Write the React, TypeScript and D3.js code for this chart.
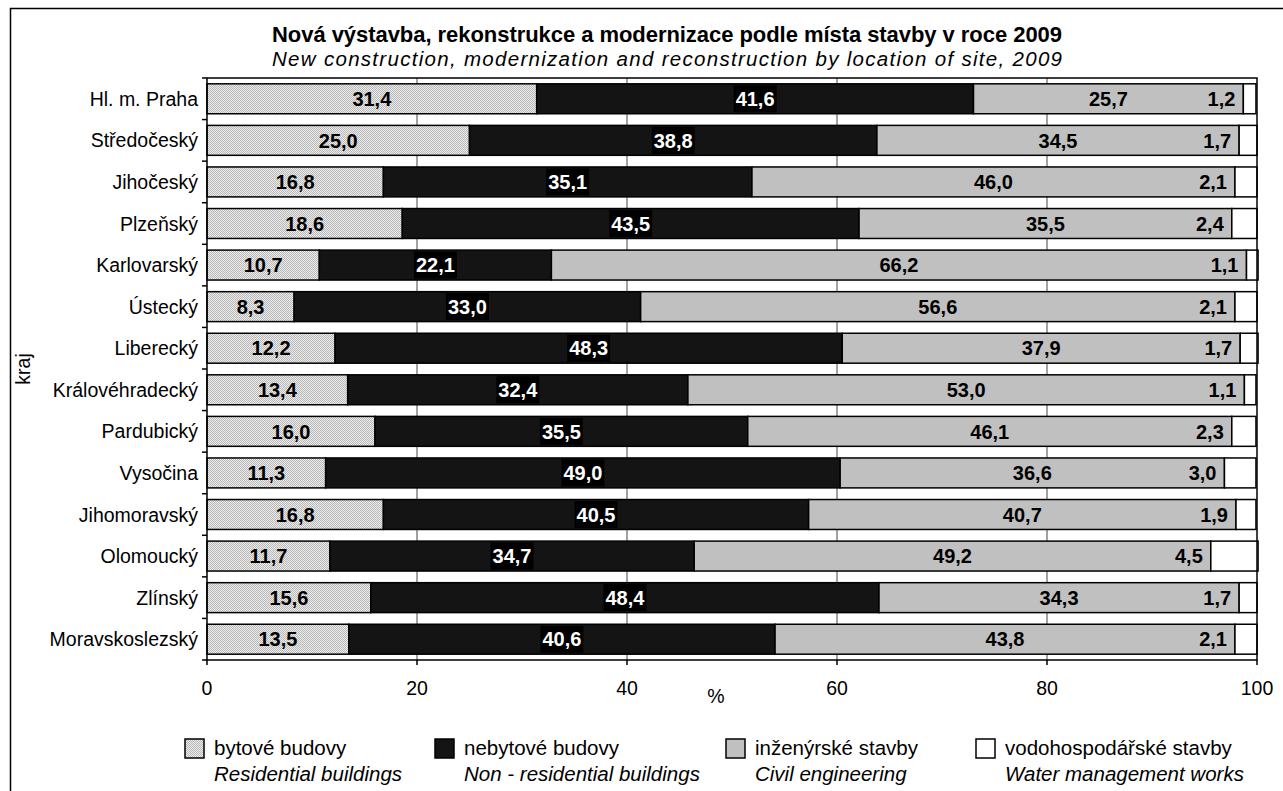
import React from 'react'
import * as d3 from 'd3'

const categories = ['Hl. m. Praha', 'Středočeský', 'Jihočeský', 'Plzeňský', 'Karlovarský', 'Ústecký', 'Liberecký', 'Královéhradecký', 'Pardubický', 'Vysočina', 'Jihomoravský', 'Olomoucký', 'Zlínský', 'Moravskoslezský']
const residential = [31.4, 25.0, 16.8, 18.6, 10.7, 8.3, 12.2, 13.4, 16.0, 11.3, 16.8, 11.7, 15.6, 13.5]
const nonResidential = [41.6, 38.8, 35.1, 43.5, 22.1, 33.0, 48.3, 32.4, 35.5, 49.0, 40.5, 34.7, 48.4, 40.6]
const civil = [25.7, 34.5, 46.0, 35.5, 66.2, 56.6, 37.9, 53.0, 46.1, 36.6, 40.7, 49.2, 34.3, 43.8]
const water = [1.2, 1.7, 2.1, 2.4, 1.1, 2.1, 1.7, 1.1, 2.3, 3.0, 1.9, 4.5, 1.7, 2.1]
const seriesKeys = ['res', 'nonres', 'civil', 'water']
const legendCz = ['bytové budovy', 'nebytové budovy', 'inženýrské stavby', 'vodohospodářské stavby']
const legendEn = ['Residential buildings', 'Non - residential buildings', 'Civil engineering', 'Water management works']
const xTicks = [0, 20, 40, 60, 80, 100]

const W = 1283
const H = 791
const margin = { left: 207, right: 26, top: 78, bottom: 131 }
const font = 'Arial, "Liberation Sans", sans-serif'
const fills = ['url(#dots)', '#141414', '#c0c0c0', '#ffffff']
const legendX = [185, 435, 726, 976]

const fmt = (v: number) => d3.format('.1f')(v).replace('.', ',')

export default function App() {
  const rows = categories.map((c, i) => ({ cat: c, res: residential[i], nonres: nonResidential[i], civil: civil[i], water: water[i] }))
  const stack = d3.stack<any>().keys(seriesKeys)(rows)

  const x = d3.scaleLinear().domain([0, 100]).range([margin.left, W - margin.right])
  const y = d3.scaleBand().domain(categories).range([margin.top, H - margin.bottom]).paddingInner(0.28).paddingOuter(0.14)
  const x0 = x(0), x1 = x(100), y0 = margin.top, y1 = H - margin.bottom
  const step = y.step()
  const lblSize = 20

  return (
    <svg width={W} height={H} style={{ position: 'absolute', left: 0, top: 0 }} fontFamily={font}>
      <defs>
        <pattern id="dots" width="2" height="2" patternUnits="userSpaceOnUse">
          <rect width="2" height="2" fill="#ececec" />
          <rect width="1" height="1" fill="#b8b8b8" />
          <rect x="1" y="1" width="1" height="1" fill="#b8b8b8" />
        </pattern>
      </defs>
      <rect x={0} y={0} width={W} height={H} fill="#fff" />
      <rect x={10.5} y={8.5} width={W + 40} height={H + 40} fill="none" stroke="#000" strokeWidth={1.5} />

      <text x={667} y={42} textAnchor="middle" fontWeight="bold" fontSize={22} textLength={790} lengthAdjust="spacing">Nová výstavba, rekonstrukce a modernizace podle místa stavby v roce 2009</text>
      <text x={667} y={66} textAnchor="middle" fontStyle="italic" fontSize={20.5} textLength={790} lengthAdjust="spacing">New construction, modernization and reconstruction by location of site, 2009</text>

      {/* gridlines */}
      {xTicks.slice(1, -1).map(t => (
        <line key={t} x1={x(t)} x2={x(t)} y1={y0} y2={y1} stroke="#444" strokeWidth={1} />
      ))}

      {/* bars */}
      {stack.map((s, si) => (
        <g key={s.key}>
          {s.map((d, i) => (
            <rect key={i} x={x(d[0])} y={y(categories[i])} width={x(d[1]) - x(d[0])} height={y.bandwidth()}
              fill={fills[si]} stroke="#000" strokeWidth={1.5} />
          ))}
        </g>
      ))}

      {/* labels */}
      {stack.map((s, si) => s.map((d, i) => {
        const cy = (y(categories[i]) as number) + y.bandwidth() / 2
        const t = fmt(rows[i][s.key as 'res'])
        if (si === 3) {
          return <text key={`l${si}-${i}`} x={x(d[0]) - 8} y={cy} dy="0.36em" textAnchor="end" fontWeight="bold" fontSize={lblSize}>{t}</text>
        }
        const cx = (x(d[0]) + x(d[1])) / 2
        if (si === 1) {
          const tw = lblSize * 1.946
          return (
            <g key={`l${si}-${i}`}>
              <rect x={cx - tw / 2 - 2} y={cy - 13.5} width={tw + 4} height={27} fill="#000" />
              <text x={cx} y={cy} dy="0.36em" textAnchor="middle" fontWeight="bold" fontSize={lblSize} fill="#fff">{t}</text>
            </g>
          )
        }
        return <text key={`l${si}-${i}`} x={cx} y={cy} dy="0.36em" textAnchor="middle" fontWeight="bold" fontSize={lblSize}>{t}</text>
      }))}

      {/* plot frame */}
      <rect x={x0} y={y0} width={x1 - x0} height={y1 - y0} fill="none" stroke="#000" strokeWidth={1.5} />

      {/* y axis ticks and labels */}
      {d3.range(categories.length + 1).map(k => (
        <line key={k} x1={x0 - 5} x2={x0} y1={y0 + k * step} y2={y0 + k * step} stroke="#000" strokeWidth={1.5} />
      ))}
      {categories.map(c => (
        <text key={c} x={198} y={(y(c) as number) + y.bandwidth() / 2} dy="0.36em" textAnchor="end" fontSize={19.5}>{c}</text>
      ))}
      <text transform={`translate(23, ${(y0 + y1) / 2}) rotate(-90)`} textAnchor="middle" fontSize={19.5} dy="0.36em">kraj</text>

      {/* x axis */}
      {xTicks.map(t => (
        <g key={t}>
          <line x1={x(t)} x2={x(t)} y1={y1} y2={y1 + 5} stroke="#000" strokeWidth={1.5} />
          <text x={x(t)} y={y1 + 28} dy="0.36em" textAnchor="middle" fontSize={19.5}>{t}</text>
        </g>
      ))}
      <text x={716} y={y1 + 36} dy="0.36em" textAnchor="middle" fontSize={19.5}>%</text>

      {/* legend */}
      {legendCz.map((l, i) => (
        <g key={l}>
          <rect x={legendX[i]} y={739} width={19} height={19} fill={fills[i]} stroke="#000" strokeWidth={1.5} />
          <text x={legendX[i] + 29} y={755} fontSize={20.5}>{l}</text>
          <text x={legendX[i] + 29} y={781} fontSize={20.5} fontStyle="italic">{legendEn[i]}</text>
        </g>
      ))}
    </svg>
  )
}
